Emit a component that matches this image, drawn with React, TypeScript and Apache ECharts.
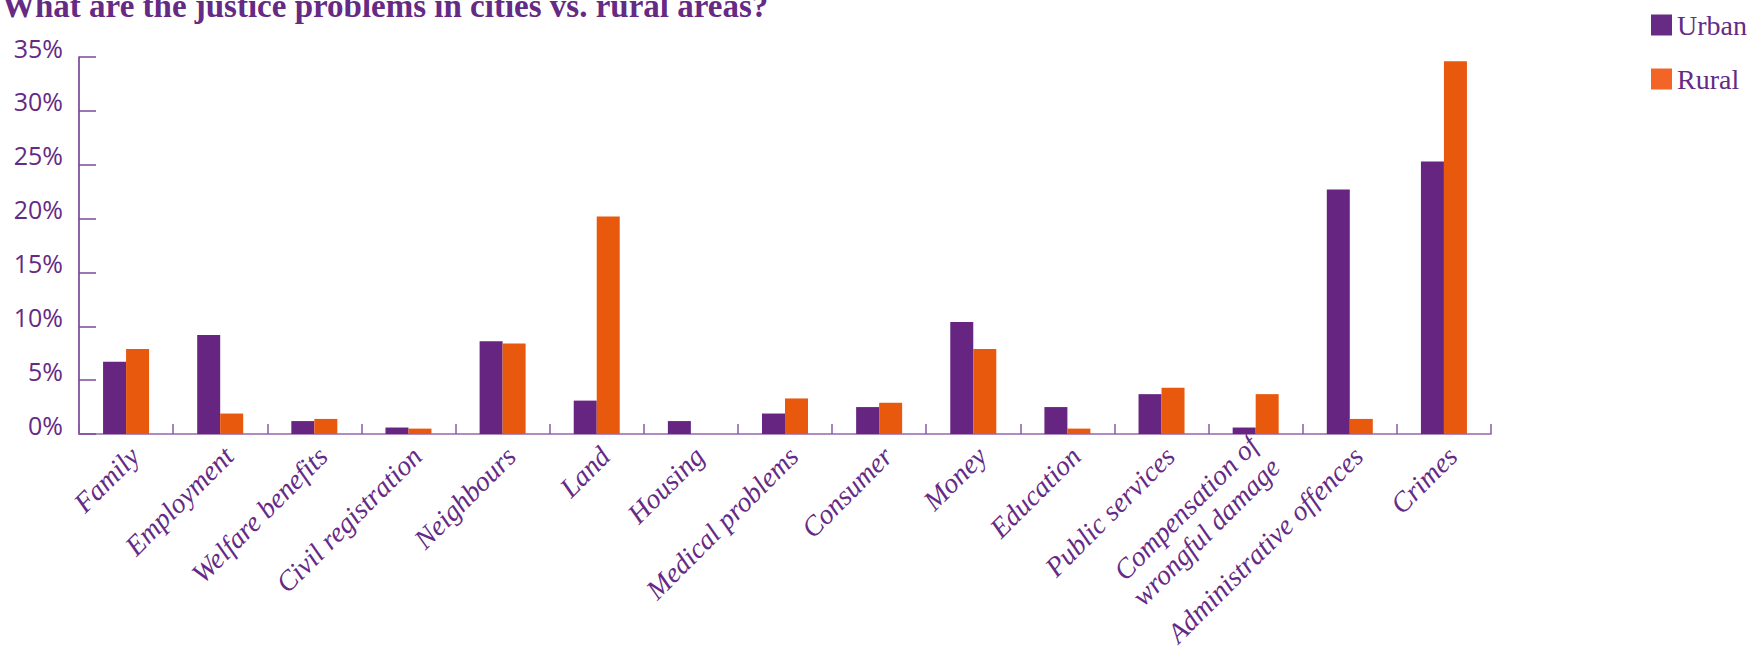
import React, { useEffect, useRef } from "react";
import * as echarts from "echarts";

const categories = [
  "Family",
  "Employment",
  "Welfare benefits",
  "Civil registration",
  "Neighbours",
  "Land",
  "Housing",
  "Medical problems",
  "Consumer",
  "Money",
  "Education",
  "Public services",
  "Compensation of\nwrongful damage",
  "Administrative offences",
  "Crimes",
];

const urban = [6.7, 9.2, 1.2, 0.6, 8.6, 3.1, 1.2, 1.9, 2.5, 10.4, 2.5, 3.7, 0.6, 22.7, 25.3];
const rural = [7.9, 1.9, 1.4, 0.5, 8.4, 20.2, 0, 3.3, 2.9, 7.9, 0.5, 4.3, 3.7, 1.4, 34.6];

const yTicks = [0, 5, 10, 15, 20, 25, 30, 35];

const TEXT = "#652a84";
const PURPLE = "#652580";
const ORANGE = "#e8590e";

export default function App() {
  const ref = useRef<HTMLDivElement>(null);
  useEffect(() => {
    if (!ref.current) return;
    const chart = echarts.init(ref.current, null, { renderer: "svg" });
    chart.setOption({
      animation: false,
      title: {
        text: "What are the justice problems in cities vs. rural areas?",
        left: 2,
        top: -10,
        padding: 0,
        textStyle: {
          fontFamily: "Liberation Serif",
          fontWeight: "bold",
          fontSize: 33,
          lineHeight: 32,
          color: TEXT,
        },
      },
      legend: {
        orient: "vertical",
        left: 1651,
        top: 11,
        padding: 0,
        itemWidth: 21,
        itemHeight: 21,
        itemGap: 26,
        icon: "rect",
        textStyle: {
          fontFamily: "Liberation Serif",
          fontSize: 28,
          lineHeight: 21,
          color: TEXT,
        },
        data: [
          { name: "Urban", itemStyle: { color: "#682b85" } },
          { name: "Rural", itemStyle: { color: "#f26526" } },
        ],
      },
      grid: {
        left: 79,
        right: 273,
        top: 57,
        bottom: 220,
        containLabel: false,
      },
      xAxis: {
        type: "category",
        data: categories,
        axisLine: { show: true, lineStyle: { color: "#9467ab", width: 1.5 } },
        axisTick: {
          show: true,
          inside: true,
          length: 10,
          lineStyle: { color: "#8a5aa3", width: 1.5 },
        },
        axisLabel: {
          rotate: 45,
          margin: 26,
          interval: 0,
          fontFamily: "Liberation Serif",
          fontStyle: "italic",
          fontSize: 28,
          lineHeight: 31,
          padding: [0, -12, 0, 0],
          color: TEXT,
        },
      },
      yAxis: {
        type: "value",
        min: 0,
        max: 35,
        interval: 5,
        axisLine: { show: true, lineStyle: { color: "#6a2d87", width: 1.5 } },
        axisTick: {
          show: true,
          inside: true,
          length: 17,
          lineStyle: { color: "#7d4a98", width: 1.5 },
        },
        splitLine: { show: false },
        axisLabel: {
          margin: 16,
          fontFamily: "Open Sans",
          fontSize: 25,
          lineHeight: 19,
          verticalAlign: "bottom",
          color: TEXT,
          formatter: (v: number) => (yTicks.includes(v) ? v + "%" : ""),
        },
      },
      series: [
        {
          name: "Urban",
          type: "bar",
          data: urban,
          barWidth: 23,
          barGap: "0%",
          itemStyle: { color: PURPLE },
        },
        {
          name: "Rural",
          type: "bar",
          data: rural,
          barWidth: 23,
          barGap: "0%",
          itemStyle: { color: ORANGE },
        },
      ],
    });
    return () => chart.dispose();
  }, []);
  return (
    <div
      ref={ref}
      style={{ position: "absolute", left: 0, top: 0, width: 1764, height: 654, background: "#fff" }}
    />
  );
}
